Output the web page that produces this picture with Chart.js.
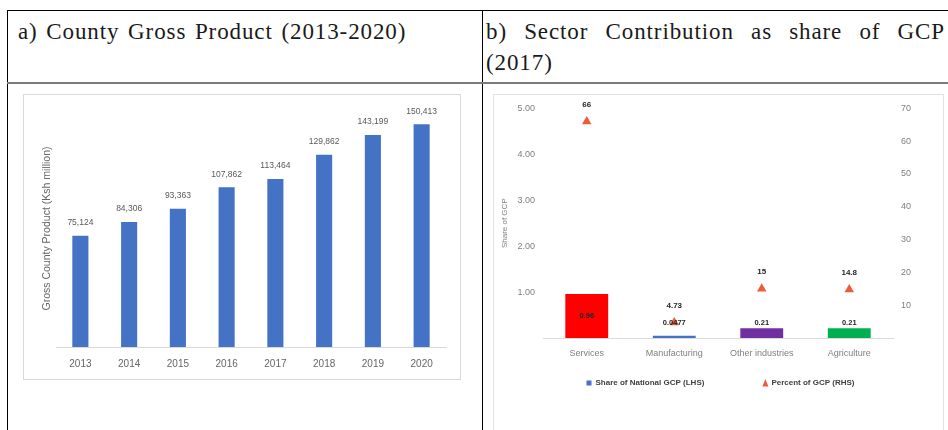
<!DOCTYPE html>
<html><head><meta charset="utf-8">
<script src="https://cdn.jsdelivr.net/npm/chart.js@4.4.0/dist/chart.umd.min.js"></script>
<style>
html,body{margin:0;padding:0;background:#fff;width:948px;height:430px;overflow:hidden;}
body{position:relative;}
.ln{position:absolute;background:#000;}
.hd{position:absolute;font-family:'Liberation Serif','Times New Roman',serif;font-size:23px;letter-spacing:0.9px;word-spacing:2px;line-height:31px;color:#1a1a1a;}
#box1{position:absolute;left:23px;top:94px;width:436px;height:284px;border:1px solid #d9d9d9;}
#box2{position:absolute;left:493px;top:94px;width:449px;height:345px;border:1px solid #e3e3e3;}
canvas{display:block;}
</style></head>
<body>
<div class="ln" style="left:7px;top:10px;width:941px;height:1px;"></div>
<div class="ln" style="left:7px;top:10px;width:1px;height:420px;"></div>
<div class="ln" style="left:482px;top:10px;width:1px;height:420px;"></div>
<div class="ln" style="left:7px;top:82px;width:941px;height:2px;background:#7a7a7a;"></div>
<div class="hd" style="left:18px;top:16px;width:460px;white-space:nowrap;">a) County Gross Product (2013-2020)</div>
<div class="hd" style="left:486px;top:16px;width:459px;text-align:justify;">b) Sector Contribution as share of GCP (2017)</div>
<div id="box1"><canvas id="c1" width="436" height="284"></canvas></div>
<div id="box2"><canvas id="c2" width="449" height="335"></canvas></div>
<script>
// ---- data: panel a ----
const years = ['2013','2014','2015','2016','2017','2018','2019','2020'];
const gcpValues = [75124, 84306, 93363, 107862, 113464, 129862, 143199, 150413];
// ---- data: panel b ----
const sectors = ['Services','Manufacturing','Other industries','Agriculture'];
const shareNational = [0.96, 0.0477, 0.21, 0.21];
const percentGCP = [66, 4.73, 15, 14.8];
const shareTicksMax = 5;
const percentTicksMax = 70;

Chart.defaults.font.family = "'Liberation Sans', Arial, sans-serif";
Chart.defaults.color = '#666';

const barValueLabels = {
  id: 'barValueLabels',
  afterDatasetsDraw(chart) {
    const ctx = chart.ctx;
    const meta = chart.getDatasetMeta(0);
    ctx.save();
    ctx.font = "8.5px 'Liberation Sans', Arial, sans-serif";
    ctx.fillStyle = '#595959';
    ctx.textAlign = 'center';
    ctx.textBaseline = 'middle';
    meta.data.forEach((el, i) => {
      ctx.fillText(gcpValues[i].toLocaleString('en-US'), el.x, el.y - 13);
    });
    ctx.restore();
  }
};

new Chart(document.getElementById('c1'), {
  type: 'bar',
  data: {
    labels: years,
    datasets: [{
      label: 'Gross County Product',
      data: gcpValues,
      backgroundColor: '#4472C4',
      barPercentage: 0.33,
      categoryPercentage: 1
    }]
  },
  options: {
    responsive: false,
    animation: false,
    devicePixelRatio: 1,
    layout: { padding: { top: 15, right: 14, bottom: 8, left: 0 } },
    plugins: { legend: { display: false }, tooltip: { enabled: false } },
    scales: {
      x: {
        grid: { display: false, drawTicks: false },
        border: { display: true, color: '#d9d9d9' },
        ticks: { color: '#666', font: { size: 10 }, padding: 11 },
        afterFit(s) { s.height = 24; }
      },
      y: {
        min: 0, max: 160000,
        grid: { display: false, drawTicks: false },
        border: { display: false },
        ticks: { display: false },
        title: { display: true, text: 'Gross County Product (Ksh million)', color: '#666', font: { size: 10.5 }, padding: { top: 16.7, bottom: 0 } },
        afterFit(s) { s.width = 32; }
      }
    }
  },
  plugins: [barValueLabels]
});

const comboLabels = {
  id: 'comboLabels',
  afterDatasetsDraw(chart) {
    const ctx = chart.ctx;
    ctx.save();
    ctx.textAlign = 'center';
    ctx.textBaseline = 'middle';
    ctx.fillStyle = '#262626';
    ctx.font = "bold 7.5px 'Liberation Sans', Arial, sans-serif";
    chart.getDatasetMeta(0).data.forEach((el, i) => {
      const y = Math.min((el.y + el.base) / 2, el.base - 15);
      ctx.fillText(String(shareNational[i]), el.x, y);
    });
    ctx.font = "bold 8px 'Liberation Sans', Arial, sans-serif";
    chart.getDatasetMeta(1).data.forEach((el, i) => {
      ctx.fillText(String(percentGCP[i]), el.x, el.y - 17);
    });
    ctx.restore();
  },
  afterDraw(chart) {
    const ctx = chart.ctx;
    ctx.save();
    ctx.font = "bold 8px 'Liberation Sans', Arial, sans-serif";
    ctx.textBaseline = 'middle';
    ctx.textAlign = 'left';
    const items = chart.data.datasets.map(ds => ({ text: ds.label, style: ds.legendStyle, color: ds.legendColor }));
    const mk = 6, mgap = 3, gap = 58;
    const widths = items.map(it => mk + mgap + ctx.measureText(it.text).width);
    const total = widths.reduce((a, b) => a + b, 0) + gap * (items.length - 1);
    let x = chart.width / 2 - total / 2 + 2;
    const y = chart.chartArea.bottom + 45;
    items.forEach((it, i) => {
      ctx.fillStyle = it.color;
      if (it.style === 'triangle') {
        ctx.beginPath();
        ctx.moveTo(x + mk / 2, y - 4);
        ctx.lineTo(x + mk, y + 3.5);
        ctx.lineTo(x, y + 3.5);
        ctx.closePath();
        ctx.fill();
      } else {
        ctx.fillRect(x, y - 2.5, 5, 5);
      }
      ctx.fillStyle = '#404040';
      ctx.fillText(it.text, x + mk + mgap, y);
      x += widths[i] + gap;
    });
    ctx.restore();
  }
};

new Chart(document.getElementById('c2'), {
  data: {
    labels: sectors,
    datasets: [{
      type: 'bar',
      label: 'Share of National GCP (LHS)',
      data: shareNational,
      yAxisID: 'y',
      backgroundColor: ['#FF0000', '#4472C4', '#7030A0', '#00B050'],
      legendColor: '#4472C4',
      legendStyle: 'rect',
      barPercentage: 0.49,
      categoryPercentage: 1,
      order: 1
    }, {
      type: 'line',
      label: 'Percent of GCP (RHS)',
      data: percentGCP,
      yAxisID: 'y1',
      showLine: false,
      pointStyle: 'triangle',
      pointRadius: 5.5,
      pointBackgroundColor: '#EC5B3A',
      pointBorderColor: '#EC5B3A',
      pointBorderWidth: 0,
      legendColor: '#EC5B3A',
      legendStyle: 'triangle',
      order: 0
    }]
  },
  options: {
    responsive: false,
    animation: false,
    devicePixelRatio: 1,
    layout: { padding: { top: 7, right: 0, bottom: 64, left: 0 } },
    plugins: { legend: { display: false }, tooltip: { enabled: false } },
    scales: {
      x: {
        grid: { display: false, drawTicks: false },
        border: { display: true, color: '#d9d9d9' },
        ticks: { color: '#7f7f7f', font: { size: 9 }, padding: 10.6 },
        afterFit(s) { s.height = 28; }
      },
      y: {
        position: 'left',
        min: 0, max: shareTicksMax,
        grid: { display: false, drawTicks: false },
        border: { display: false },
        ticks: { stepSize: 1, color: '#7f7f7f', font: { size: 9 }, padding: 8,
          callback: v => v === 0 ? '' : Number(v).toFixed(2) },
        title: { display: true, text: 'Share of GCP', color: '#7f7f7f', font: { size: 8 }, padding: { top: 6.2, bottom: 0 } },
        afterFit(s) { s.width = 49; }
      },
      y1: {
        position: 'right',
        min: 0, max: percentTicksMax,
        grid: { display: false, drawTicks: false },
        border: { display: false },
        ticks: { stepSize: 10, color: '#7f7f7f', font: { size: 9 }, padding: 8,
          callback: v => v === 0 ? '' : String(v) },
        afterFit(s) { s.width = 50; }
      }
    }
  },
  plugins: [comboLabels]
});
</script>
</body></html>
